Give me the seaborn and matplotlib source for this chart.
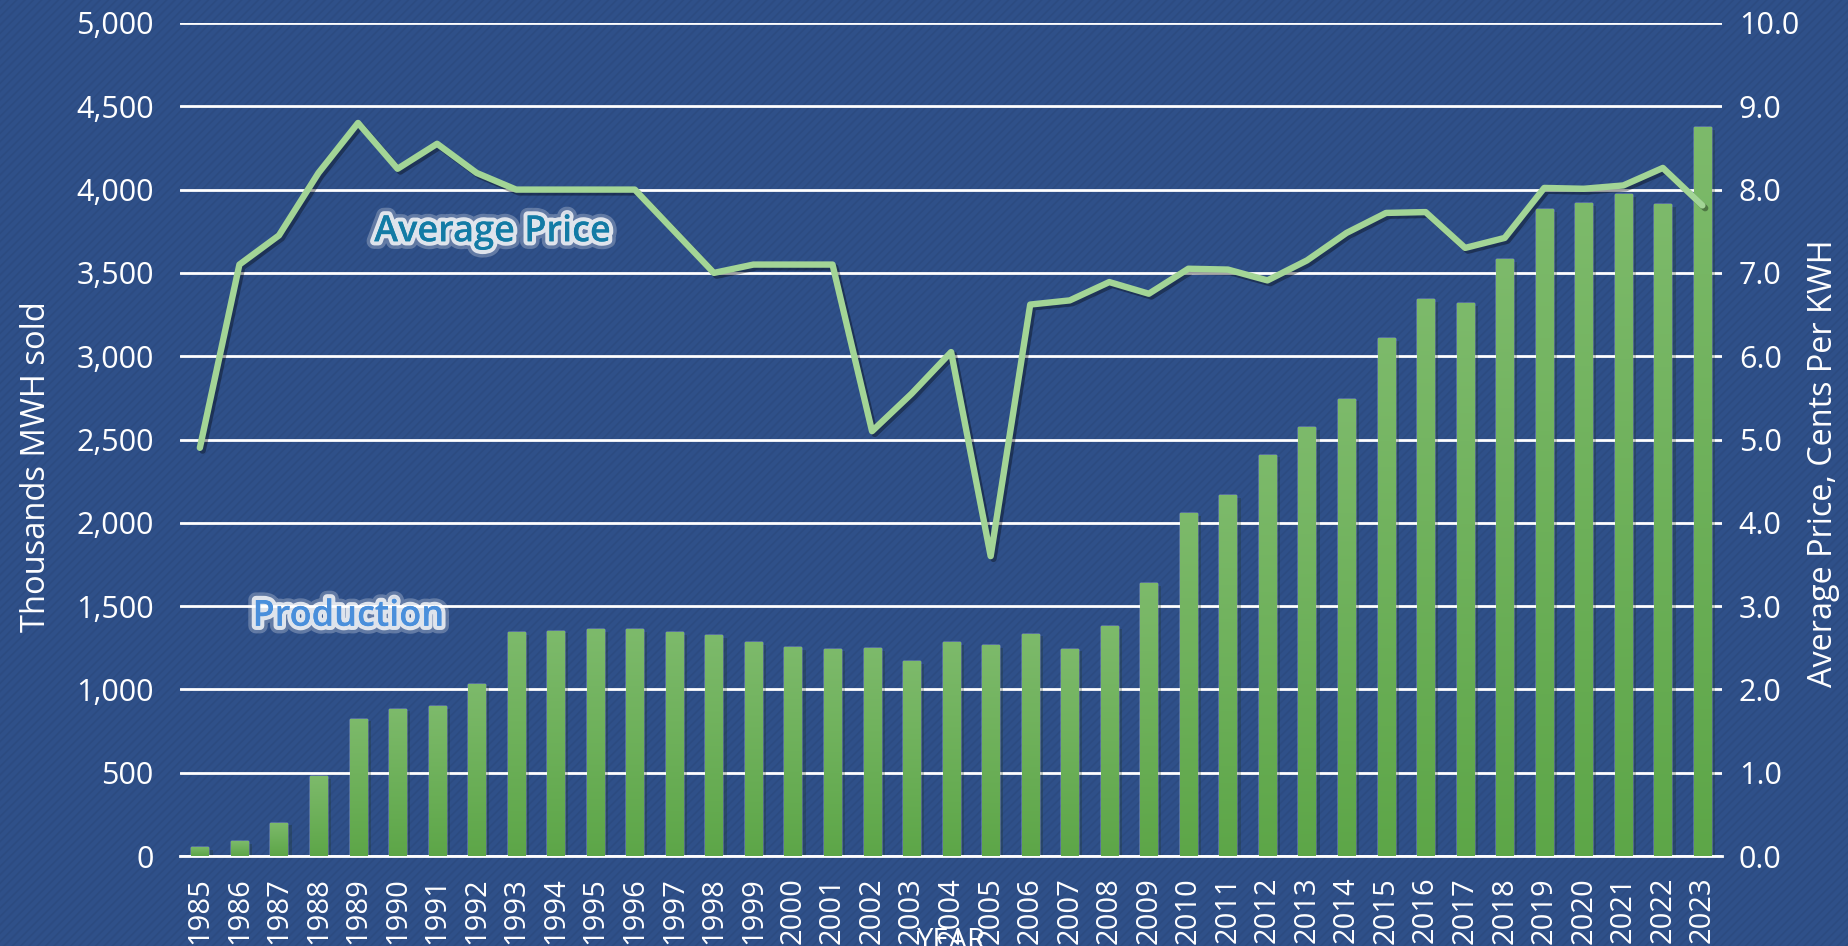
import numpy as np
import matplotlib
matplotlib.use("Agg")
import matplotlib.pyplot as plt
import matplotlib.patheffects as pe
from matplotlib.patches import Rectangle
from matplotlib.colors import LinearSegmentedColormap
from matplotlib.ticker import FuncFormatter
import seaborn as sns

years = [str(y) for y in range(1985, 2024)]
production = [55, 90, 200, 480, 825, 885, 900, 1035, 1345, 1353,
              1360, 1360, 1346, 1325, 1285, 1255, 1245, 1250, 1170, 1285,
              1268, 1335, 1245, 1380, 1640, 2060, 2165, 2410, 2575, 2745,
              3110, 3345, 3320, 3585, 3885, 3920, 3975, 3915, 4375]
price = [4.9, 7.1, 7.45, 8.2, 8.8, 8.25, 8.55, 8.2, 8.0, 8.0,
         8.0, 8.0, 7.5, 7.0, 7.1, 7.1, 7.1, 5.1, 5.55, 6.05,
         3.6, 6.62, 6.67, 6.89, 6.75, 7.05, 7.04, 6.91, 7.15, 7.48,
         7.72, 7.73, 7.3, 7.42, 8.02, 8.01, 8.05, 8.26, 7.81]

bg = "#2F5089"
stripe = "#2C4B81"
bar_top = "#7DBA6B"
bar_bot = "#5DA648"
line_col = "#A3D596"

sns.set_style("white")
plt.rcParams["font.family"] = ["Open Sans", "DejaVu Sans"]
plt.rcParams["hatch.linewidth"] = 1.2

fig = plt.figure(figsize=(18.49, 9.46), dpi=100, facecolor=bg)
fig.patches.append(Rectangle((0, 0), 1, 1, transform=fig.transFigure,
                             facecolor=bg, edgecolor=stripe, hatch="////",
                             lw=0, zorder=-10))

ax = fig.add_axes([0.0974, 0.0951, 0.834, 0.8806])
ax.patch.set_visible(False)

sns.barplot(x=years, y=production, ax=ax, color=bar_bot, saturation=1,
            width=0.43, zorder=2)

# vertical gradient on each bar
cmap = LinearSegmentedColormap.from_list("g", [bar_bot, bar_top])
grad = np.linspace(0, 1, 256).reshape(-1, 1)
for p in ax.patches:
    p.set_path_effects([pe.SimplePatchShadow(offset=(3, -2), alpha=0.25), pe.Normal()])
    x0, w, h = p.get_x(), p.get_width(), p.get_height()
    im = ax.imshow(grad, cmap=cmap, aspect="auto", origin="lower",
                   extent=(x0, x0 + w, 0, h), zorder=3)
    im.set_clip_path(p)

n = len(years)
ax.set_xlim(-0.5, n - 0.5)
ax.set_ylim(0, 5000)
ax.set_yticks(range(0, 5001, 500))
ax.yaxis.set_major_formatter(FuncFormatter(lambda v, _: f"{int(v):,}"))
ax.yaxis.grid(True, color="white", linewidth=2)
ax.set_axisbelow(True)

ax.set_xticks(np.arange(n + 1) - 0.5)
ax.set_xticklabels([])
ax.set_xticks(np.arange(n), minor=True)
ax.set_xticklabels(years, minor=True, rotation=90)
ax.tick_params(axis="x", which="major", length=11, width=2, color="white",
               direction="out")
ax.tick_params(axis="x", which="minor", length=0, pad=15, labelsize=21,
               labelcolor="white")
ax.tick_params(axis="y", length=0, pad=19, labelsize=22, labelcolor="white")

for s in ["left", "right", "top"]:
    ax.spines[s].set_visible(False)
ax.spines["bottom"].set_color("white")
ax.spines["bottom"].set_linewidth(2)

ax.set_xlabel("YEAR", fontsize=21, color="white")
ax.xaxis.set_label_coords(0.5, -0.085)
ax.set_ylabel("Thousands MWH sold", fontsize=23.5, color="white", va="center")
ax.yaxis.set_label_coords(-0.093, 0.468)

ax2 = ax.twinx()
ax2.patch.set_visible(False)
sns.lineplot(x=np.arange(n), y=price, ax=ax2, color=line_col, linewidth=4.6,
             solid_joinstyle="round", solid_capstyle="round", zorder=5,
             path_effects=[pe.SimpleLineShadow(offset=(2, -2), alpha=0.35),
                           pe.Normal()])
ax2.set_xlim(-0.5, n - 0.5)
ax2.set_ylim(0, 10)
ax2.set_yticks(range(0, 11))
ax2.yaxis.set_major_formatter(FuncFormatter(lambda v, _: f"{v:.1f}"))
ax2.tick_params(axis="y", length=0, pad=12, labelsize=22, labelcolor="white")
for s in ax2.spines.values():
    s.set_visible(False)
ax2.set_ylabel("Average Price, Cents Per KWH", fontsize=23.3, color="white",
               va="center")
ax2.yaxis.set_label_coords(1.0655, 0.472)

glow = [pe.withStroke(linewidth=11, foreground="white", alpha=0.25),
        pe.withStroke(linewidth=6, foreground="white", alpha=0.8),
        pe.Normal()]
ax.text(7.4, 3744, "Average Price", ha="center", va="center", fontsize=26,
        fontweight="semibold", color="#137BA5", path_effects=glow, zorder=6)
ax.text(3.75, 1436, "Production", ha="center", va="center", fontsize=26,
        fontweight="semibold", color="#4A8FDB", path_effects=glow, zorder=6)

fig.savefig("out.png", dpi=100, facecolor=bg)
